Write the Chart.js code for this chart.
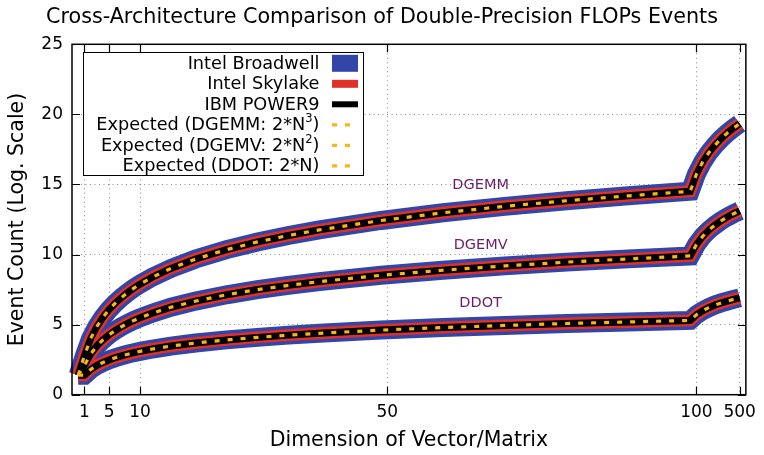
<!DOCTYPE html>
<html>
<head>
<meta charset="utf-8">
<script src="https://cdn.jsdelivr.net/npm/chart.js@4.4.1/dist/chart.umd.min.js"></script>
<style>
  html, body { margin: 0; padding: 0; background: #ffffff; }
  #wrap { width: 764px; height: 455px; position: relative; }
</style>
</head>
<body>
<div id="wrap"><canvas id="chart" width="764" height="455"></canvas></div>
<script>
// Position of each sample along the sweep (x axis units)
const sampleIndex = [0, 1, 2, 3, 4, 5, 6, 7, 8, 9, 10, 12, 15, 19, 24, 29, 34, 39, 49, 59, 69, 79, 89, 99,
                     100, 101, 102, 103, 104, 105, 106, 107];

// Natural log of the double-precision FLOP event count per kernel
const dgemmLog = [1.39, 2.77, 3.99, 4.85, 5.52, 6.07, 6.53, 6.93, 7.28, 7.60, 7.89, 8.39, 9.01, 9.68, 10.35, 10.90,
                  11.36, 11.76, 12.43, 12.98, 13.44, 13.84, 14.19, 14.51, 15.73, 16.59, 17.26, 17.80, 18.27, 18.67, 19.02, 19.34];
const dgemvLog = [1.39, 2.08, 2.89, 3.47, 3.91, 4.28, 4.58, 4.85, 5.09, 5.30, 5.49, 5.82, 6.24, 6.68, 7.13, 7.50,
                  7.80, 8.07, 8.52, 8.88, 9.19, 9.46, 9.69, 9.90, 10.71, 11.29, 11.74, 12.10, 12.41, 12.68, 12.91, 13.12];
const ddotLog  = [1.39, 1.39, 1.79, 2.08, 2.30, 2.48, 2.64, 2.77, 2.89, 3.00, 3.09, 3.26, 3.47, 3.69, 3.91, 4.09,
                  4.25, 4.38, 4.61, 4.79, 4.94, 5.08, 5.19, 5.30, 5.70, 5.99, 6.21, 6.40, 6.55, 6.68, 6.80, 6.91];

// X tick placement and the dimension printed there
const tickIndex  = [1, 5, 10, 50, 100, 107];
const tickLabels = ['1', '5', '10', '50', '100', '500'];

const kernelNames = ['DGEMM', 'DGEMV', 'DDOT'];
const kernelSeries = [dgemmLog, dgemvLog, ddotLog];

const chartTitle = 'Cross-Architecture Comparison of Double-Precision FLOPs Events';
const FONT = "'DejaVu Sans', 'Liberation Sans', sans-serif";

// Platform styling (drawn bottom to top: Broadwell, Skylake, POWER9, expected)
const platforms = [
  { name: 'Intel Broadwell', color: '#3346a8', width: 19, key: 17, dash: [], order: 3 },
  { name: 'Intel Skylake',   color: '#e0302a', width: 12, key: 8,  dash: [], order: 2 },
  { name: 'IBM POWER9',      color: '#000000', width: 7,  key: 6,  dash: [], order: 1 },
  { name: 'Expected',        color: '#f7b719', width: 3.2, key: 3.2, dash: [5, 8], order: 0 }
];

const datasets = [];
platforms.forEach(p => {
  kernelSeries.forEach((values, k) => {
    datasets.push({
      label: p.name + ' ' + kernelNames[k],
      data: sampleIndex.map((x, i) => ({ x: x, y: values[i] })),
      borderColor: p.color,
      backgroundColor: p.color,
      borderWidth: p.width,
      borderDash: p.dash,
      borderCapStyle: 'butt',
      borderJoinStyle: 'miter',
      pointRadius: 0,
      pointHoverRadius: 0,
      fill: false,
      tension: 0,
      clip: false,
      order: p.order
    });
  });
});

// Legend rows: text pieces (normal / superscript) and the line sample style
const legendRows = [
  { parts: [['Intel Broadwell', false]], style: platforms[0] },
  { parts: [['Intel Skylake', false]], style: platforms[1] },
  { parts: [['IBM POWER9', false]], style: platforms[2] },
  { parts: [['Expected (DGEMM: 2*N', false], ['3', true], [')', false]], style: platforms[3] },
  { parts: [['Expected (DGEMV: 2*N', false], ['2', true], [')', false]], style: platforms[3] },
  { parts: [['Expected (DDOT: 2*N)', false]], style: platforms[3] }
];

// Kernel captions placed in data coordinates
const captions = { x: 65.1, y: [14.95, 10.67, 6.5] };

const framePlugin = {
  id: 'frameAndTicks',
  afterDatasetsDraw(chart) {
    const { ctx, chartArea: a, scales } = chart;
    const xs = scales.x, ys = scales.y;
    ctx.save();
    // kernel captions
    ctx.fillStyle = '#6b1d6b';
    ctx.font = '14.5px ' + FONT;
    ctx.textAlign = 'center';
    ctx.textBaseline = 'middle';
    kernelNames.forEach((name, k) => {
      ctx.fillText(name, xs.getPixelForValue(captions.x), ys.getPixelForValue(captions.y[k]));
    });
    // inward tick marks on all four sides
    ctx.strokeStyle = '#000';
    ctx.lineWidth = 1.2;
    const tl = 8;
    ctx.beginPath();
    xs.ticks.forEach(t => {
      const px = Math.round(xs.getPixelForValue(t.value)) + 0.5;
      ctx.moveTo(px, a.bottom); ctx.lineTo(px, a.bottom - tl);
      ctx.moveTo(px, a.top); ctx.lineTo(px, a.top + tl);
    });
    ys.ticks.forEach(t => {
      const py = Math.round(ys.getPixelForValue(t.value)) + 0.5;
      ctx.moveTo(a.left, py); ctx.lineTo(a.left + tl, py);
      ctx.moveTo(a.right, py); ctx.lineTo(a.right - tl, py);
    });
    ctx.stroke();
    ctx.restore();
  },
  afterDraw(chart) {
    const { ctx, chartArea: a, width } = chart;
    ctx.save();
    // chart title, centred on the canvas
    ctx.fillStyle = '#000';
    ctx.font = '20.7px ' + FONT;
    ctx.textAlign = 'center';
    ctx.textBaseline = 'middle';
    ctx.fillText(chartTitle, width / 2, 18);
    // legend box
    const box = { left: 83.5, top: 52.5, right: 363.5, bottom: 175.5 };
    ctx.fillStyle = '#ffffff';
    ctx.fillRect(box.left, box.top, box.right - box.left, box.bottom - box.top);
    ctx.strokeStyle = '#000';
    ctx.lineWidth = 1;
    ctx.strokeRect(box.left, box.top, box.right - box.left, box.bottom - box.top);
    const textRight = 319.5, sampleL = 332, sampleR = 358;
    legendRows.forEach((row, i) => {
      const cy = 63.3 + i * 20.5;
      let total = 0;
      row.parts.forEach(([s, sup]) => {
        ctx.font = (sup ? '11.5px ' : '17.7px ') + FONT;
        total += ctx.measureText(s).width;
      });
      let x = textRight - total;
      ctx.fillStyle = '#000';
      ctx.textAlign = 'left';
      ctx.textBaseline = 'middle';
      row.parts.forEach(([s, sup]) => {
        ctx.font = (sup ? '11.5px ' : '17.7px ') + FONT;
        ctx.fillText(s, x, sup ? cy - 5.5 : cy + 1);
        x += ctx.measureText(s).width;
      });
      ctx.strokeStyle = row.style.color;
      ctx.lineWidth = row.style.key;
      ctx.setLineDash(row.style.dash);
      ctx.lineCap = 'butt';
      ctx.beginPath();
      ctx.moveTo(sampleL, cy);
      ctx.lineTo(sampleR, cy);
      ctx.stroke();
      ctx.setLineDash([]);
    });
    // plot frame
    ctx.strokeStyle = '#000';
    ctx.lineWidth = 1.5;
    ctx.strokeRect(a.left, a.top, a.right - a.left, a.bottom - a.top);
    ctx.restore();
  }
};

new Chart(document.getElementById('chart'), {
  type: 'line',
  data: { datasets: datasets },
  options: {
    responsive: false,
    animation: false,
    events: [],
    layout: { padding: { left: 0, right: 11.7, top: 44.3, bottom: 0 } },
    plugins: {
      legend: { display: false },
      tooltip: { enabled: false },
      title: { display: false }
    },
    scales: {
      x: {
        type: 'linear',
        min: -1,
        max: 108,
        afterBuildTicks(scale) { scale.ticks = tickIndex.map(v => ({ value: v })); },
        afterFit(scale) { scale.height = 60.3; },
        ticks: {
          autoSkip: false,
          maxRotation: 0,
          color: '#000',
          padding: 8,
          font: { family: FONT, size: 17 },
          callback: (v) => tickLabels[tickIndex.indexOf(v)]
        },
        grid: { color: 'rgba(0,0,0,0.45)', lineWidth: 1, drawTicks: false },
        border: { display: false, dash: [1, 3.5] },
        title: {
          display: true,
          text: 'Dimension of Vector/Matrix',
          color: '#000',
          font: { family: FONT, size: 20.5 },
          padding: { top: 0, bottom: 2 }
        }
      },
      y: {
        type: 'linear',
        min: 0,
        max: 25,
        afterFit(scale) { scale.width = 72; },
        ticks: {
          stepSize: 5,
          color: '#000',
          padding: 9,
          font: { family: FONT, size: 17 }
        },
        grid: { color: 'rgba(0,0,0,0.45)', lineWidth: 1, drawTicks: false },
        border: { display: false, dash: [1, 3.5] },
        title: {
          display: true,
          text: 'Event Count (Log. Scale)',
          color: '#000',
          font: { family: FONT, size: 20.5 },
          padding: { top: 5.5, bottom: 0 }
        }
      }
    }
  },
  plugins: [framePlugin]
});
</script>
</body>
</html>
